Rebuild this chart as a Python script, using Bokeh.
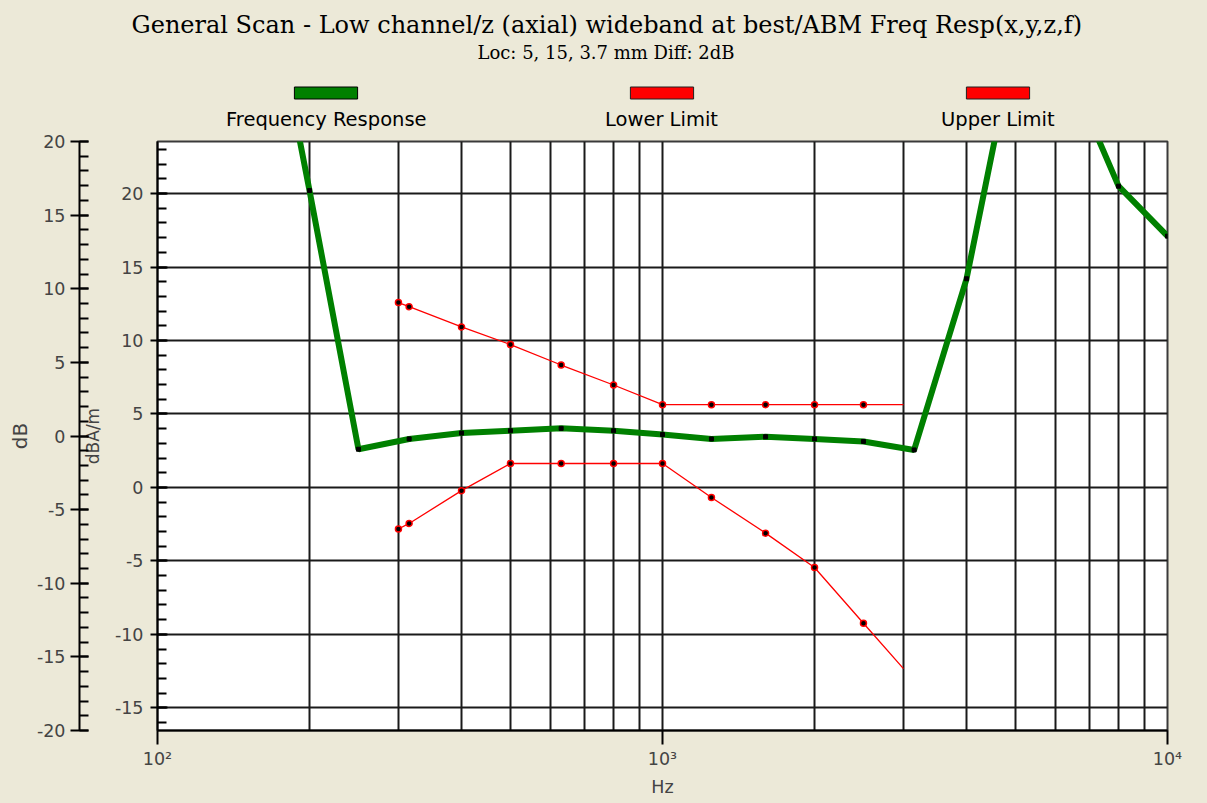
from bokeh.plotting import figure
from bokeh.layouts import column
from bokeh.models import (LinearAxis, Range1d, FixedTicker, SingleIntervalTicker,
                          Legend, LegendItem, Title, BoxAnnotation)
from bokeh.core.properties import value
from bokeh.embed import file_html
from bokeh.resources import INLINE

# ---------------- data ----------------
resp_freq = [160, 200, 250, 315, 400, 500, 630, 800, 1000, 1250, 1600,
             2000, 2500, 3150, 4000, 5000, 6300, 8000, 10000]
resp_db = [37.3, 20.2, 2.6, 3.3, 3.7, 3.86, 4.02, 3.86, 3.6, 3.3, 3.45,
           3.3, 3.13, 2.55, 14.2, 30.6, 28.8, 20.5, 17.1]

limit_freq = [300, 315, 400, 500, 630, 800, 1000, 1250, 1600, 2000, 2500, 3000]
upper_db = [12.58, 12.3, 10.92, 9.72, 8.33, 6.97, 5.63, 5.63, 5.63, 5.63, 5.63, 5.63]
lower_db = [-2.83, -2.45, -0.22, 1.63, 1.63, 1.63, 1.63, -0.68, -3.11, -5.45, -9.24, -12.33]

x_major = [100, 1000, 10000]
x_minor = [200, 300, 400, 500, 600, 700, 800, 900,
           2000, 3000, 4000, 5000, 6000, 7000, 8000, 9000]
x_labels = {100: "10²", 1000: "10³", 10000: "10⁴"}
neg_labels = {-20: "-20", -15: "-15", -10: "-10", -5: "-5"}

title_text = "General Scan - Low channel/z (axial) wideband at best/ABM Freq Resp(x,y,z,f)"
subtitle_text = "Loc: 5, 15, 3.7 mm Diff: 2dB"
series_names = ["Frequency Response", "Lower Limit", "Upper Limit"]

BG = "#ECE9D8"
SANS = "DejaVu Sans"
SERIF = "DejaVu Serif"
GRID = "#1a1a1a"
GREEN = "#008000"
RED = "#ff0000"

HEADER_H = 131

# =============== header: titles + legend ===============
header = figure(width=1207, height=HEADER_H, x_range=Range1d(0, 1), y_range=Range1d(0, 1),
                output_backend="svg", toolbar_location=None,
                x_axis_location=None, y_axis_location=None,
                min_border_left=157, min_border_right=40,
                min_border_top=64, min_border_bottom=0)
header.background_fill_color = BG
header.background_fill_alpha = 0
header.border_fill_color = BG
header.outline_line_color = None
header.grid.visible = False
header.add_layout(BoxAnnotation(fill_color=BG, fill_alpha=1, line_color=None,
                                level="underlay"))

# hidden renderers that give the legend its swatches / entries
h_g = header.line(resp_freq, resp_db, line_width=6, line_color=GREEN, visible=False)
h_lo = header.line(limit_freq, lower_db, line_width=1.3, line_color=RED, visible=False)
h_up = header.line(limit_freq, upper_db, line_width=1.3, line_color=RED, visible=False)
sw_g = header.quad(left=resp_freq, right=resp_freq, top=resp_db, bottom=resp_db,
                   fill_color=GREEN, line_color="black", line_width=1, visible=False)
sw_lo = header.quad(left=limit_freq, right=limit_freq, top=lower_db, bottom=lower_db,
                    fill_color=RED, line_color="#202020", line_width=1, visible=False)
sw_up = header.quad(left=limit_freq, right=limit_freq, top=upper_db, bottom=upper_db,
                    fill_color=RED, line_color="#202020", line_width=1, visible=False)

leg_sw = Legend(
    items=[LegendItem(label=value(""), renderers=[sw_g]),
           LegendItem(label=value(""), renderers=[sw_lo]),
           LegendItem(label=value(""), renderers=[sw_up])],
    orientation="horizontal", location=(129, 31),
    glyph_width=79, glyph_height=15, label_width=0, label_height=0,
    label_standoff=0, spacing=257, padding=0, margin=0,
    label_text_font_size="1px", border_line_color=None, background_fill_alpha=0,
    inactive_fill_alpha=0)
header.add_layout(leg_sw)

for name, rend, lx in zip(series_names, [h_g, h_lo, h_up], [69, 448, 784]):
    lg = Legend(items=[LegendItem(label=name, renderers=[rend])],
                location=(lx, 0), orientation="horizontal",
                glyph_width=0, glyph_height=1, label_width=0, label_height=1,
                label_standoff=0, padding=0, margin=0,
                label_text_font=SANS, label_text_font_size="19.5px",
                label_text_color="black", border_line_color=None,
                background_fill_alpha=0, inactive_fill_alpha=0)
    header.add_layout(lg)

sub = Title(text=subtitle_text, text_font=SERIF, text_font_size="18px",
            text_font_style="normal", text_color="black", align="left",
            offset=320, standoff=4)
main = Title(text=title_text, text_font=SERIF, text_font_size="24px",
             text_font_style="normal", text_color="black", align="left",
             offset=-26, standoff=-3)
header.add_layout(sub, "above")
header.add_layout(main, "above")

# =============== main chart ===============
fig = figure(width=1207, height=803 - HEADER_H, x_axis_type="log",
             x_range=Range1d(100, 10000), y_range=Range1d(-16.54, 23.54),
             output_backend="svg", toolbar_location=None,
             min_border_left=157, min_border_right=40,
             min_border_top=141 - HEADER_H, min_border_bottom=73)
fig.extra_y_ranges = {"dB": Range1d(-20, 20)}
fig.background_fill_color = "white"
fig.border_fill_color = BG
fig.outline_line_color = "#3a3a3a"
fig.outline_line_width = 2

# grid
fig.xaxis[0].ticker = FixedTicker(ticks=x_major, minor_ticks=x_minor)
fig.xgrid.grid_line_color = GRID
fig.xgrid.grid_line_width = 2
fig.xgrid.minor_grid_line_color = GRID
fig.xgrid.minor_grid_line_width = 2
fig.yaxis[0].ticker = SingleIntervalTicker(interval=5, num_minor_ticks=5)
fig.ygrid.grid_line_color = GRID
fig.ygrid.grid_line_width = 2

# x axis
xa = fig.xaxis[0]
xa.major_label_overrides = x_labels
xa.axis_label = "Hz"
xa.axis_label_text_font = SANS
xa.axis_label_text_font_size = "17.5px"
xa.axis_label_text_font_style = "normal"
xa.axis_label_standoff = 5
xa.major_label_text_font = SANS
xa.major_label_text_font_size = "17.5px"
xa.major_label_standoff = 4
xa.major_tick_out = 14
xa.major_tick_in = 0
xa.minor_tick_out = 0
xa.minor_tick_in = 0
xa.axis_line_width = 2
xa.major_tick_line_width = 2
xa.axis_line_color = "black"


def style_y(ax, label, label_size, label_standoff, tick_out, tick_in, lab_standoff):
    ax.axis_label = label
    ax.axis_label_text_font = SANS
    ax.axis_label_text_font_size = label_size
    ax.axis_label_text_font_style = "normal"
    ax.axis_label_standoff = label_standoff
    ax.major_label_text_font = SANS
    ax.major_label_text_font_size = "17.5px"
    ax.major_label_standoff = lab_standoff
    ax.major_label_overrides = neg_labels
    ax.major_tick_out = tick_out
    ax.major_tick_in = tick_in
    ax.minor_tick_out = 0
    ax.minor_tick_in = 9
    ax.axis_line_width = 2
    ax.major_tick_line_width = 2
    ax.minor_tick_line_width = 2
    ax.axis_line_color = "black"
    ax.major_tick_line_color = "black"
    ax.minor_tick_line_color = "black"


def spacer_axis(size):
    return LinearAxis(y_range_name="dB", ticker=FixedTicker(ticks=[]),
                      axis_line_color=None, major_tick_out=size, major_tick_in=0,
                      minor_tick_out=0, minor_tick_in=0,
                      major_tick_line_color=None, minor_tick_line_color=None,
                      major_label_standoff=0)


# inner axis (dBA/m) next to the frame, a gap, then the outer axis (dB)
style_y(fig.yaxis[0], "dBA/m", "17px", 9, 7, 10, 7)
fig.add_layout(spacer_axis(9), "left")
outer = LinearAxis(y_range_name="dB",
                   ticker=SingleIntervalTicker(interval=5, num_minor_ticks=5))
style_y(outer, "dB", "20px", 2, 9, 9, 5)
fig.add_layout(outer, "left")

# series
fig.line(resp_freq, resp_db, line_width=6, line_color=GREEN)
fig.scatter(resp_freq, resp_db, marker="square", size=4, color="black")

fig.line(limit_freq, lower_db, line_width=1.3, line_color=RED)
fig.line(limit_freq, upper_db, line_width=1.3, line_color=RED)
fig.scatter(limit_freq[:-1], lower_db[:-1], marker="circle", size=6,
            fill_color="black", line_color=RED, line_width=1.5)
fig.scatter(limit_freq[:-1], upper_db[:-1], marker="circle", size=6,
            fill_color="black", line_color=RED, line_width=1.5)

p = column(header, fig, spacing=0, styles={"background-color": BG})
open("out.html", "w").write(file_html(p, INLINE))
